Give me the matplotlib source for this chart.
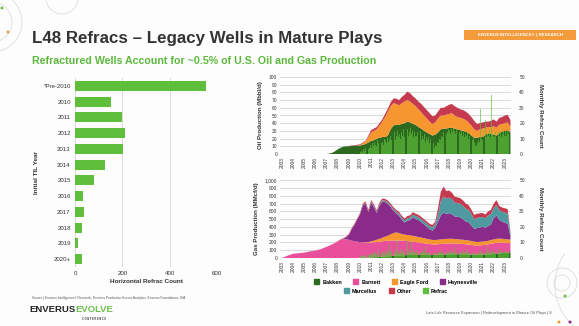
import numpy as np
import matplotlib
matplotlib.use('Agg')
import matplotlib.pyplot as plt
from matplotlib.patches import Patch, Rectangle, Circle, Arc
from matplotlib.ticker import FuncFormatter

plt.rcParams['font.family'] = ['Liberation Sans', 'DejaVu Sans']

W, H = 579, 326

# horizontal refracs by initial TIL year
til_years = ['*Pre-2010', '2010', '2011', '2012', '2013', '2014', '2015',
             '2016', '2017', '2018', '2019', '2020+']
til_refracs = [555, 150, 199, 210, 203, 125, 82, 35, 40, 30, 13, 30]

# quarterly production, 2007 Q1 .. 2023 Q3 (stack thickness per play)
quarters = np.arange(2007, 2023.51, 0.25)

oil_bakken = [0, 0.5, 1.5, 3.5, 6, 8, 9.5, 10, 10, 10.5, 11, 11,
              11, 12, 13, 15, 17, 18, 20, 21, 22, 22, 24, 32,
              37, 38, 38, 39, 40, 42, 41, 39, 38, 35, 33, 30,
              28, 26, 24, 25, 28, 32, 33, 33, 34, 34, 33, 32,
              31, 30, 29, 27, 24, 21, 21, 22, 22, 25, 27, 26,
              25, 24, 27, 29, 30, 31, 28]
oil_eagle_ford = [0, 0, 0, 0, 0, 0, 0, 0, 0, 0, 0, 0,
                  0.5, 2, 3, 7, 11, 12, 12, 16, 20, 26, 31, 30,
                  29, 27, 25, 27, 28, 28, 27, 26, 24, 23, 21, 20,
                  18, 16, 15, 16, 18, 18, 17, 18, 18, 19, 17, 16,
                  16, 16, 15, 14, 13, 11, 9, 10, 11, 9, 8, 9,
                  11, 10, 11, 10, 10, 10, 7]
oil_other = [0, 0, 0, 0, 0, 0, 0, 0, 0.5, 0.5, 0.5, 1,
             1, 1, 1, 2, 3, 3, 3, 3, 3, 4, 4, 5,
             6, 7, 7, 8, 9, 11, 11, 10, 10, 10, 11, 11,
             11, 11, 10, 9, 9, 10, 10, 11, 12, 12, 12, 12,
             11, 11, 11, 11, 11, 11, 9, 8, 8, 8, 7, 8,
             9, 8, 9, 9, 10, 10, 9]

# Barnett ramp before 2007 (half-yearly)
gas_early_dates = [2003.0, 2003.5, 2004.0, 2004.5, 2005.0, 2005.5, 2006.0, 2006.5]
gas_early_barnett = [0, 30, 55, 62, 70, 85, 95, 115]

gas_bakken = [0, 0, 0, 0, 0, 0, 0, 0, 0, 0, 0, 0,
              2, 3, 4, 6, 8, 10, 12, 14, 17, 20, 22, 25,
              28, 30, 32, 34, 36, 38, 40, 40, 40, 40, 40, 40,
              40, 40, 40, 40, 42, 44, 45, 46, 47, 48, 48, 48,
              48, 47, 46, 45, 44, 42, 42, 43, 44, 45, 46, 48,
              52, 55, 58, 62, 66, 70, 75]
gas_barnett = [145, 160, 175, 195, 215, 235, 242, 240, 235, 225, 215, 210,
               203, 198, 195, 192, 190, 192, 193, 195, 198, 200, 200, 200,
               197, 195, 193, 190, 185, 180, 175, 170, 165, 160, 155, 150,
               145, 140, 135, 135, 135, 137, 138, 140, 140, 140, 138, 137,
               135, 133, 130, 128, 125, 120, 118, 120, 122, 125, 130, 135,
               138, 140, 140, 135, 130, 125, 120]
gas_eagle_ford = [0, 0, 0, 0, 0, 0, 0, 0, 0, 0, 0, 0,
                  0, 2, 4, 8, 15, 22, 30, 38, 45, 55, 65, 80,
                  95, 105, 95, 85, 80, 78, 78, 75, 72, 70, 68, 65,
                  62, 60, 57, 57, 58, 58, 60, 60, 60, 60, 58, 57,
                  55, 55, 53, 52, 50, 48, 45, 45, 45, 45, 45, 48,
                  50, 52, 52, 50, 48, 45, 40]
gas_haynesville = [0, 0, 0, 0, 0, 0, 5, 25, 63, 145, 210, 285,
                   355, 470, 500, 385, 500, 432, 345, 430, 465, 445, 410, 350,
                   290, 245, 225, 185, 155, 185, 195, 240, 225, 218, 200, 178,
                   155, 130, 120, 160, 235, 310, 340, 320, 330, 315, 290, 290,
                   285, 265, 240, 235, 200, 165, 180, 185, 190, 175, 190, 200,
                   275, 300, 240, 220, 210, 200, 50]
gas_marcellus = [0, 0, 0, 0, 0, 0, 0, 0, 0, 0, 0, 0,
                 5, 5, 8, 10, 12, 14, 15, 16, 18, 18, 20, 20,
                 20, 22, 25, 25, 28, 30, 32, 35, 36, 37, 38, 38,
                 40, 40, 42, 45, 90, 180, 210, 200, 200, 195, 180, 175,
                 175, 170, 165, 160, 145, 125, 130, 130, 128, 120, 135, 135,
                 125, 135, 125, 128, 130, 135, 35]
gas_other = [0, 0, 0, 0, 2, 5, 8, 10, 12, 15, 15, 15,
             15, 19, 19, 19, 20, 20, 20, 22, 22, 22, 23, 25,
             25, 23, 25, 26, 26, 29, 30, 30, 32, 30, 29, 29,
             28, 30, 31, 33, 80, 121, 127, 94, 93, 82, 76, 73,
             72, 70, 66, 60, 56, 55, 55, 52, 51, 50, 54, 54,
             60, 63, 55, 55, 56, 55, 20]

# monthly refrac counts from Jan 2010
oil_refrac = [1, 2, 1, 3, 2, 4, 2, 3, 5, 3, 4, 6,
              4, 7, 5, 8, 6, 5, 9, 7, 6, 8, 10, 7,
              8, 6, 10, 9, 7, 11, 8, 10, 12, 9, 11, 13,
              10, 14, 9, 12, 15, 11, 13, 10, 14, 12, 16, 11,
              13, 15, 11, 16, 12, 14, 17, 13, 15, 11, 14, 12,
              12, 14, 10, 13, 11, 15, 9, 12, 10, 13, 8, 11,
              9, 11, 7, 10, 6, 8, 5, 7, 4, 6, 5, 8,
              7, 10, 9, 12, 11, 14, 13, 12, 15, 13, 14, 16,
              15, 13, 16, 14, 17, 15, 13, 16, 14, 15, 12, 14,
              13, 15, 12, 14, 11, 13, 12, 14, 10, 12, 11, 13,
              11, 9, 12, 8, 6, 5, 7, 9, 8, 29, 10, 9,
              12, 10, 14, 22, 11, 13, 12, 15, 11, 38, 13, 12,
              11, 14, 12, 10, 13, 15, 12, 14, 11, 13, 15, 12,
              14, 12, 15, 13, 11, 12]
gas_refrac = [1, 1, 2, 1, 2, 1, 2, 3, 1, 2, 2, 3,
              2, 3, 2, 4, 3, 2, 3, 5, 3, 4, 2, 3,
              3, 4, 2, 5, 3, 4, 9, 3, 5, 4, 3, 6,
              4, 3, 5, 4, 11, 3, 4, 6, 3, 5, 4, 3,
              5, 4, 3, 10, 4, 6, 3, 11, 4, 5, 3, 4,
              3, 5, 4, 3, 9, 4, 3, 5, 4, 3, 8, 4,
              3, 4, 3, 2, 4, 3, 7, 3, 2, 4, 3, 2,
              3, 4, 3, 5, 3, 4, 3, 6, 3, 4, 3, 4,
              4, 3, 5, 4, 3, 7, 4, 3, 5, 4, 3, 4,
              3, 4, 3, 5, 3, 4, 6, 3, 4, 3, 5, 3,
              4, 3, 4, 2, 3, 2, 3, 4, 3, 5, 3, 4,
              3, 5, 4, 3, 8, 4, 3, 5, 4, 3, 6, 4,
              4, 3, 5, 4, 3, 6, 4, 3, 5, 4, 3, 4,
              5, 4, 3, 4, 3, 4]

years = list(range(2003, 2024))

C_BAKKEN = '#2d6a1f'
C_BARNETT = '#e8509b'
C_EAGLE = '#f5962f'
C_HAYNES = '#8a2b8a'
C_MARC = '#4e9aa0'
C_OTHER = '#c63a4f'
C_REFRAC = '#5fbf3c'
TXT = '#333333'
GRID = '#d4d4d4'


def px_axes(fig, x0, y0, x1, y1):
    # axes placed by pixel box (top-left origin)
    return fig.add_axes([x0 / W, 1 - y1 / H, (x1 - x0) / W, (y1 - y0) / H])


fig = plt.figure(figsize=(W / 100, H / 100), dpi=100)
fig.patch.set_facecolor('#fdfdfd')

# slide background layer in pixel coordinates
bg = fig.add_axes([0, 0, 1, 1], zorder=-5)
bg.set_xlim(0, W)
bg.set_ylim(H, 0)
bg.axis('off')
for cx, cy, r in [(-8, 22, 30), (-8, 22, 20), (62, -2, 16), (562, 283, 8), (562, 283, 15)]:
    bg.add_patch(Circle((cx, cy), r, fill=False, ec='#dcdcdc', lw=0.6))
bg.add_patch(Arc((610, 285), 110, 110, theta1=130, theta2=215, ec='#dcdcdc', lw=0.6))
for cx, cy, c in [(2, 8, '#6cc04a'), (8, 32, '#f39a3a'), (565, 296, '#6cc04a'),
                  (559, 322, '#f39a3a'), (570, 322, '#8a2b8a')]:
    bg.add_patch(Circle((cx, cy), 1.5, color=c, lw=0))

bg.text(32, 38, 'L48 Refracs \u2013 Legacy Wells in Mature Plays', fontsize=12.2,
        fontweight='bold', color=TXT, va='center', ha='left')
bg.text(32, 61, 'Refractured Wells Account for ~0.5% of U.S. Oil and Gas Production',
        fontsize=7.7, fontweight='bold', color='#5db83d', va='center', ha='left')
bg.add_patch(Rectangle((464, 29.5), 112, 10.5, color='#f39a3a', lw=0))
bg.text(520, 34.8, 'ENVERUS INTELLIGENCE\u00ae | RESEARCH', fontsize=3.2,
        fontweight='bold', color='white', ha='center', va='center')
bg.text(32, 298, 'Source | Enverus Intelligence\u00ae Research, Enverus Production Events Analytics, '
        'Enverus Foundations, EIA', fontsize=2.3, color='#555555', va='center')
bg.text(29, 309, 'ENVERUS', fontsize=6.8, fontweight='bold', color='#222222', va='center')
bg.text(75.5, 309, 'EVOLVE', fontsize=6.8, fontweight='bold', color='#6cc04a', va='center')
bg.text(82, 319.5, 'C O N F E R E N C E', fontsize=1.8, fontweight='bold', color='#333333', va='center')
bg.text(552, 313, 'Late-Life Resource Expansion | Redevelopment in Mature Oil Plays | 8',
        fontsize=2.9, color='#555555', va='center', ha='right')

# left: refrac count by initial TIL year
axb = px_axes(fig, 75, 78, 217, 267)
pos = np.arange(len(til_years))
axb.barh(pos, til_refracs, height=0.62, color=C_REFRAC, zorder=3)
axb.set_ylim(len(til_years) - 0.5, -0.5)
axb.set_xlim(0, 600)
axb.set_xticks([0, 200, 400, 600])
axb.set_yticks(pos)
axb.set_yticklabels(til_years)
axb.xaxis.grid(True, color=GRID, lw=0.6, zorder=0)
axb.tick_params(length=0, labelsize=4.4, colors=TXT, pad=3)
for s in axb.spines.values():
    s.set_visible(False)
axb.set_facecolor('none')
axb.set_xlabel('Horizontal Refrac Count', fontsize=4.6, fontweight='bold', color=TXT, labelpad=2)
axb.set_ylabel('Initial TIL Year', fontsize=4.6, fontweight='bold', color=TXT, labelpad=3)

months_oil = 2010 + (np.arange(len(oil_refrac)) + 0.5) / 12
months_gas = 2010 + (np.arange(len(gas_refrac)) + 0.5) / 12
gas_dates = np.concatenate([gas_early_dates, quarters])
pad = [0] * len(gas_early_dates)


def style_ts(ax, ymax, step, label, fmt):
    ax.set_xlim(2002.82, 2023.55)
    ax.set_ylim(0, ymax)
    ax.set_yticks(np.arange(0, ymax + 1, step))
    ax.yaxis.set_major_formatter(FuncFormatter(fmt))
    ax.set_xticks(years)
    ax.set_xticklabels([str(y) for y in years], rotation=90)
    ax.yaxis.grid(True, color=GRID, lw=0.6)
    ax.set_axisbelow(True)
    ax.tick_params(length=0, labelsize=3.5, colors=TXT, pad=2)
    for s in ax.spines.values():
        s.set_visible(False)
    ax.set_facecolor('none')
    ax.set_ylabel(label, fontsize=4.4, fontweight='bold', color=TXT, labelpad=4)


def twin_refrac(ax, months, counts):
    ax2 = ax.twinx()
    ax2.bar(months, counts, width=0.07, color=C_REFRAC, alpha=0.65, lw=0)
    ax2.set_ylim(0, 50)
    ax2.set_xlim(2002.82, 2023.55)
    ax2.set_yticks(range(0, 51, 10))
    ax2.tick_params(length=0, labelsize=3.5, colors=TXT, pad=6)
    for s in ax2.spines.values():
        s.set_visible(False)
    ax2.set_ylabel('Monthly Refrac Count', rotation=270, fontsize=4.4,
                   fontweight='bold', color=TXT, labelpad=13)
    return ax2


# oil production
axo = px_axes(fig, 280, 77, 511, 154)
axo.stackplot(quarters, oil_bakken, oil_eagle_ford, oil_other,
              colors=[C_BAKKEN, C_EAGLE, C_OTHER], lw=0)
style_ts(axo, 100, 10, 'Oil Production (Mbbl/d)', lambda v, p: f'{v:.0f}')
twin_refrac(axo, months_oil, oil_refrac)

# gas production
axg = px_axes(fig, 280, 180.3, 511, 258)
axg.stackplot(gas_dates, pad + gas_bakken, gas_early_barnett + gas_barnett,
              pad + gas_eagle_ford, pad + gas_haynesville, pad + gas_marcellus,
              pad + gas_other,
              colors=[C_BAKKEN, C_BARNETT, C_EAGLE, C_HAYNES, C_MARC, C_OTHER], lw=0)
style_ts(axg, 1000, 100, 'Gas Production (MMcf/d)', lambda v, p: f'{v:,.0f}')
twin_refrac(axg, months_gas, gas_refrac)

# legend in two centred rows
row1 = [('Bakken', C_BAKKEN), ('Barnett', C_BARNETT), ('Eagle Ford', C_EAGLE),
        ('Haynesville', C_HAYNES)]
row2 = [('Marcellus', C_MARC), ('Other', C_OTHER), ('Refrac', C_REFRAC)]
for row, yc in [(row1, 282), (row2, 291)]:
    handles = [Patch(color=c, label=n) for n, c in row]
    fig.legend(handles=handles, loc='center', bbox_to_anchor=(396 / W, 1 - yc / H),
               ncol=len(row), frameon=False, handlelength=0.9,
               handleheight=0.9, handletextpad=0.6, columnspacing=2.0,
               prop={'weight': 'bold', 'size': 4.0})

fig.savefig('out.png', dpi=100, facecolor=fig.get_facecolor())
